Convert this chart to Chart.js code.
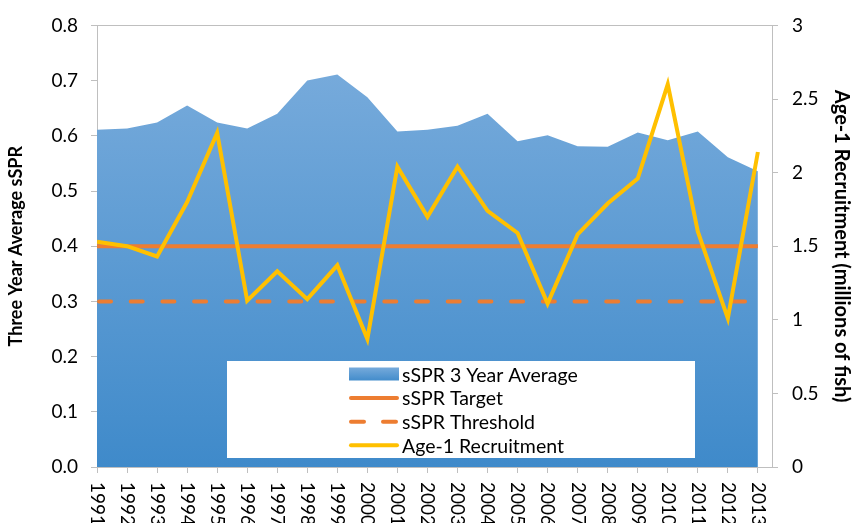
<!DOCTYPE html>
<html>
<head>
<meta charset="utf-8">
<script src="https://cdn.jsdelivr.net/npm/chart.js@4.4.1/dist/chart.umd.min.js"></script>
<style>
  body { margin: 0; background: #fff; }
  #wrap { width: 853px; height: 523px; }
</style>
</head>
<body>
<div id="wrap"><canvas id="sprChart" width="853" height="523"></canvas></div>
<script>
var years = [1991,1992,1993,1994,1995,1996,1997,1998,1999,2000,2001,2002,2003,2004,2005,2006,2007,2008,2009,2010,2011,2012,2013];
var ssprAvg = [0.611,0.613,0.624,0.655,0.624,0.613,0.640,0.700,0.711,0.670,0.608,0.611,0.618,0.640,0.590,0.601,0.581,0.580,0.606,0.592,0.608,0.561,0.536];
var ssprTarget = [0.4,0.4,0.4,0.4,0.4,0.4,0.4,0.4,0.4,0.4,0.4,0.4,0.4,0.4,0.4,0.4,0.4,0.4,0.4,0.4,0.4,0.4,0.4];
var ssprThreshold = [0.3,0.3,0.3,0.3,0.3,0.3,0.3,0.3,0.3,0.3,0.3,0.3,0.3,0.3,0.3,0.3,0.3,0.3,0.3,0.3,0.3,0.3,0.3];
var recruitment = [1.53,1.50,1.43,1.80,2.27,1.13,1.33,1.14,1.37,0.87,2.04,1.70,2.04,1.74,1.59,1.11,1.58,1.79,1.96,2.60,1.60,1.01,2.14];
var leftTicks = [0,0.1,0.2,0.3,0.4,0.5,0.6,0.7,0.8];
var rightTicks = [0,0.5,1,1.5,2,2.5,3];

var axisGray = "#bfbfbf";
var orange = "#ED7D31";
var yellow = "#FFC000";

function pts(arr) {
  return years.map(function (y, i) { return { x: y, y: arr[i] }; });
}

function blueFill(ctx, top, bottom) {
  var g = ctx.createLinearGradient(0, top, 0, bottom);
  g.addColorStop(0, "rgb(118,170,219)");
  g.addColorStop(1, "rgb(63,138,202)");
  return g;
}

// year labels read top-to-bottom, so draw them by hand
var yearLabels = {
  id: "yearLabels",
  afterDraw: function (chart) {
    var xs = chart.scales.x;
    var ctx = chart.ctx;
    ctx.save();
    ctx.fillStyle = "#000";
    ctx.font = "19px Lato";
    ctx.textAlign = "left";
    ctx.textBaseline = "middle";
    years.forEach(function (y) {
      ctx.save();
      ctx.translate(xs.getPixelForValue(y), xs.top + 15);
      ctx.rotate(Math.PI / 2);
      ctx.fillText(String(y), 0, 0);
      ctx.restore();
    });
    ctx.restore();
  }
};

// legend box sitting inside the plot
var boxLegend = {
  id: "boxLegend",
  afterDraw: function (chart) {
    var ctx = chart.ctx;
    var sets = chart.data.datasets;
    var bx = 227, by = 361, bw = 468, bh = 97;
    ctx.save();
    ctx.fillStyle = "#fff";
    ctx.fillRect(bx, by, bw, bh);
    ctx.font = "19.5px Lato";
    ctx.textBaseline = "middle";
    ctx.textAlign = "left";
    var sx = 351, ex = 397, tx = 402;
    for (var i = 0; i < sets.length; i++) {
      var cy = 374.5 + i * 23.6;
      var ds = sets[i];
      if (ds.fill) {
        ctx.fillStyle = blueFill(ctx, cy - 7, cy + 7);
        ctx.fillRect(sx - 2, cy - 7, ex - sx + 4, 13);
      } else {
        ctx.strokeStyle = ds.borderColor;
        ctx.lineWidth = 4;
        ctx.lineCap = "round";
        ctx.setLineDash(ds.borderDash && ds.borderDash.length ? [13, 19] : []);
        ctx.beginPath();
        ctx.moveTo(sx, cy);
        ctx.lineTo(ex, cy);
        ctx.stroke();
        ctx.setLineDash([]);
      }
      ctx.fillStyle = "#000";
      ctx.fillText(ds.label, tx, cy + 1);
    }
    ctx.restore();
  }
};

Chart.defaults.font.family = "Lato";
Chart.defaults.color = "#000";

var sprCanvas = document.getElementById("sprChart");
var sprChart = new Chart(sprCanvas, {
  type: "line",
  data: {
    datasets: [
      {
        label: "sSPR 3 Year Average",
        data: pts(ssprAvg),
        yAxisID: "y",
        fill: "origin",
        borderWidth: 0,
        borderColor: "rgba(0,0,0,0)",
        backgroundColor: function (c) {
          var ca = c.chart.chartArea;
          if (!ca) return "rgb(90,155,212)";
          return blueFill(c.chart.ctx, c.chart.scales.y.getPixelForValue(0.711), ca.bottom);
        },
        pointRadius: 0,
        tension: 0,
        order: 4
      },
      {
        label: "sSPR Target",
        data: pts(ssprTarget),
        yAxisID: "y",
        fill: false,
        borderColor: orange,
        borderWidth: 4,
        pointRadius: 0,
        order: 3
      },
      {
        label: "sSPR Threshold",
        data: pts(ssprThreshold),
        yAxisID: "y",
        fill: false,
        borderColor: orange,
        borderWidth: 4,
        borderDash: [12, 19.7],
        borderDashOffset: -2,
        borderCapStyle: "round",
        pointRadius: 0,
        order: 2
      },
      {
        label: "Age-1 Recruitment",
        data: pts(recruitment),
        yAxisID: "y1",
        fill: false,
        borderColor: yellow,
        borderWidth: 4,
        pointRadius: 0,
        tension: 0,
        order: 1
      }
    ]
  },
  options: {
    responsive: false,
    animation: false,
    events: [],
    layout: { padding: { top: 22, left: 0, right: 0, bottom: 0 } },
    plugins: {
      legend: { display: false },
      tooltip: { enabled: false }
    },
    scales: {
      x: {
        type: "linear",
        min: years[0],
        max: 2013.47,
        afterFit: function (s) { s.height = 56; },
        ticks: { stepSize: 1, includeBounds: false, display: false },
        grid: {
          drawOnChartArea: false,
          tickLength: 6,
          tickColor: axisGray,
          color: axisGray
        },
        border: { color: axisGray, width: 1 }
      },
      y: {
        position: "left",
        min: 0,
        max: 0.8,
        afterFit: function (s) { s.width = 97; },
        afterBuildTicks: function (s) {
          s.ticks = leftTicks.map(function (v) { return { value: v }; });
        },
        ticks: {
          font: { size: 19 },
          padding: 13,
          callback: function (v) { return Number(v).toFixed(1); }
        },
        grid: {
          drawOnChartArea: true,
          tickLength: 6,
          tickColor: axisGray,
          color: function (c) {
            return c.tick && c.tick.value === 0.8 ? axisGray : "rgba(0,0,0,0)";
          }
        },
        border: { color: axisGray, width: 1 },
        title: {
          display: true,
          text: "Three Year Average sSPR",
          font: { size: 18, weight: "bold" },
          padding: { top: 5, bottom: 0 }
        }
      },
      y1: {
        position: "right",
        min: 0,
        max: 3,
        afterFit: function (s) { s.width = 81; },
        afterBuildTicks: function (s) {
          s.ticks = rightTicks.map(function (v) { return { value: v }; });
        },
        ticks: {
          font: { size: 19 },
          padding: 14,
          callback: function (v) { return String(v); }
        },
        grid: {
          drawOnChartArea: false,
          tickLength: 6,
          tickColor: axisGray
        },
        border: { color: axisGray, width: 1 },
        title: {
          display: true,
          text: "Age-1 Recruitment (millions of fish)",
          font: { size: 20, weight: "bold" },
          padding: { top: 0, bottom: 0 }
        }
      }
    }
  },
  plugins: [yearLabels, boxLegend]
});
</script>
</body>
</html>
